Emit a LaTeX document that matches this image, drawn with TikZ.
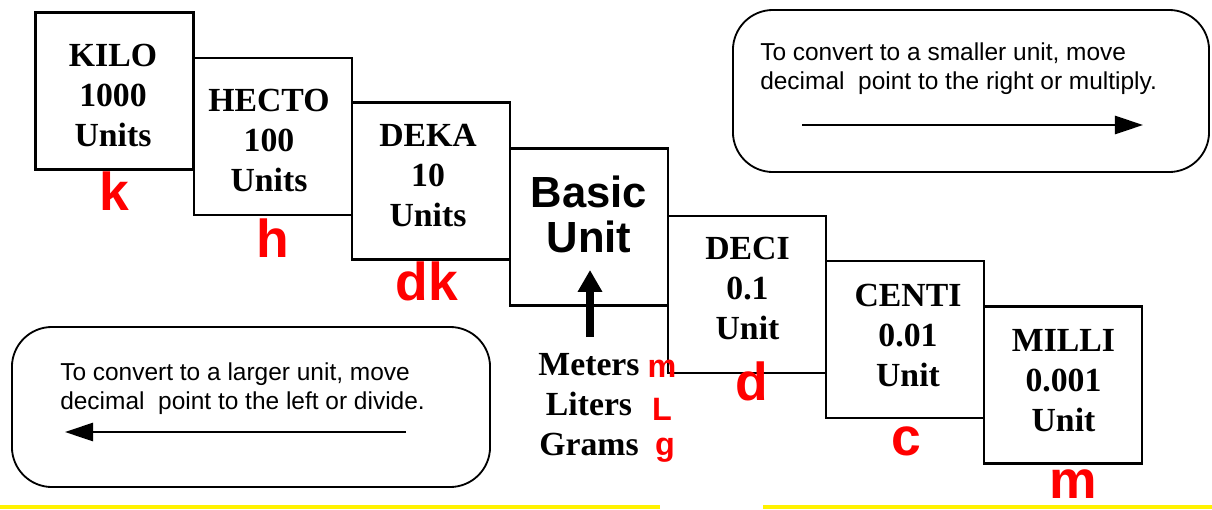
\documentclass[tikz,border=0pt]{standalone}
\usepackage{fontspec}
\setmainfont{Liberation Serif}
\setsansfont{Liberation Sans}
\usetikzlibrary{arrows.meta}
\tikzset{
  unitbox/.style={draw, line width=1.6pt, minimum width=3.95cm, minimum height=3.925cm, inner sep=0pt},
  unittext/.style={align=center, inner sep=0pt, font=\fontsize{24}{28.5}\selectfont\bfseries},
  notebox/.style={draw, line width=1.3pt, rounded corners=1cm, inner sep=0pt},
  notetext/.style={anchor=north west, align=left, inner sep=0pt, font=\sffamily\fontsize{17.4}{21.3}\selectfont},
  notearrow/.style={line width=1.4pt, -{Triangle[length=20pt,width=13pt]}},
  prefixabbr/.style={anchor=base, inner sep=0pt, text=red, font=\sffamily\bfseries\fontsize{38}{38}\selectfont},
  unitabbr/.style={prefixabbr, font=\sffamily\bfseries\fontsize{23}{23}\selectfont}
}
\begin{document}
\begin{tikzpicture}[x=0.025cm,y=-0.025cm]
  \useasboundingbox (0,0) rectangle (1212,509);
  \fill[yellow] (0,505) rectangle (660,509);
  \fill[yellow] (763,505) rectangle (1212,509);

  \node[unitbox] (kilo) at (114.5,91) {};
  \node[unitbox] (hecto) at (273,136.5) {};
  \node[unitbox] (deka) at (431,181) {};
  \node[unitbox] (basic) at (589,227) {};
  \node[unitbox] (deci) at (747,294.5) {};
  \node[unitbox] (centi) at (905,339.5) {};
  \node[unitbox] (milli) at (1063,385) {};

  \node[unittext] (kilotxt) at (113,95.6) {KILO\\1000\\Units};
  \node[unittext] (hectotxt) at (269,140.6) {HECTO\\100\\Units};
  \node[unittext] (dekatxt) at (428,175.6) {DEKA\\10\\Units};
  \node[font=\sffamily\bfseries\fontsize{31}{32}\selectfont, align=center, inner sep=0pt] (basictxt) at (589,214) {Basic\\Unit};
  \node[unittext] (decitxt) at (747.5,288.6) {DECI\\0.1\\Unit};
  \node[unittext] (centitxt) at (908,335.6) {CENTI\\0.01\\Unit};
  \node[unittext] (millitxt) at (1063.5,380.6) {MILLI\\0.001\\Unit};

  \node[unittext] (units) at (589,405) {Meters\\Liters\\Grams};
  \coordinate (upfoot) at (590,337);
  \coordinate (uptip) at (590,270);
  \draw[line width=5.5pt, -{Triangle[length=15.5pt,width=16.5pt]}] (upfoot) -- (uptip);

  \node[prefixabbr] (k) at (114,210) {k};
  \node[prefixabbr] (h) at (273,257) {h};
  \node[prefixabbr] (dk) at (427,300) {dk};
  \node[prefixabbr] (d) at (752,400) {d};
  \node[prefixabbr] (c) at (906,455) {c};
  \node[prefixabbr] (mm) at (1073,498) {m};
  \node[unitabbr] (m) at (662,377) {m};
  \node[unitabbr] (L) at (662,420) {L};
  \node[unitabbr] (g) at (665,455) {g};

  \node[notebox, minimum width=11.9cm, minimum height=4.05cm] (smaller) at (971,91) {};
  \node[notetext] (smallertxt) at (760,42) {To convert to a smaller unit, move\\decimal\ \ point to the right or multiply.};
  \coordinate (smallerfrom) at (802,125);
  \coordinate (smallerto) at (1143,125);
  \draw[notearrow] (smallerfrom) -- (smallerto);

  \node[notebox, minimum width=11.95cm, minimum height=4cm] (larger) at (251,407) {};
  \node[notetext] (largertxt) at (60,362) {To convert to a larger unit, move\\decimal\ \ point to the left or divide.};
  \coordinate (largerfrom) at (406,432);
  \coordinate (largerto) at (65,432);
  \draw[notearrow] (largerfrom) -- (largerto);
\end{tikzpicture}
\end{document}
